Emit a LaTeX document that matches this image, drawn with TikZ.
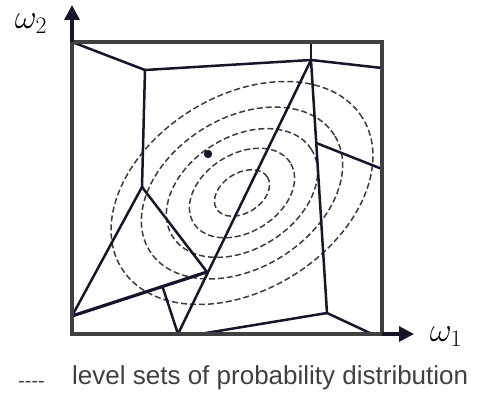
\RequirePackage{fix-cm}
\documentclass[tikz,border=0pt]{standalone}
\usepackage{fontspec}
\setmainfont{Liberation Sans}
\usetikzlibrary{arrows.meta,calc}
\definecolor{ink}{HTML}{16152A}
\definecolor{framegray}{HTML}{404040}
\definecolor{dashgray}{HTML}{3C3C3C}
\definecolor{textgray}{HTML}{404040}
\begin{document}
\begin{tikzpicture}[x=1pt,y=-1pt,
  edge/.style={draw=ink, line width=2.5pt, line join=round, line cap=round},
  thickedge/.style={edge, line width=3.2pt},
  frame/.style={draw=framegray, line width=3.6pt},
  levelset/.style={draw=dashgray, line width=1.5pt, dash pattern=on 6pt off 3pt},
  axis/.style={draw=ink, line width=3.2pt, -{Triangle[length=15pt,width=15pt]}},
  axlabel/.style={font=\fontsize{34}{38}\selectfont, inner sep=0pt},
  legend/.style={font=\fontsize{26}{30}\selectfont, text=textgray, inner sep=0pt}
]
\useasboundingbox (0,0) rectangle (477,403);
% frame corners
\coordinate (TL) at (72,42);
\coordinate (TR) at (382,42);
\coordinate (BR) at (382,334);
\coordinate (BL) at (72,334);
% level sets
\begin{scope}[shift={(242,193)}, rotate=32]
  \draw[levelset] (0,0) ellipse [x radius=142pt, y radius=97pt];
  \draw[levelset] (0,0) ellipse [x radius=109pt, y radius=75pt];
  \draw[levelset] (0,0) ellipse [x radius=82pt, y radius=56pt];
  \draw[levelset] (0,0) ellipse [x radius=57pt, y radius=39pt];
  \draw[levelset] (0,0) ellipse [x radius=30pt, y radius=20pt];
\end{scope}
% vertices
\coordinate (A) at (145,70);
\coordinate (B) at (311,60);
\coordinate (Btop) at (311,42);
\coordinate (Bright) at (382,68);
\coordinate (C) at (142,187);
\coordinate (D) at (327,313);
\coordinate (E) at ($(B)!0.328!(D)$);
\coordinate (Eright) at (382,169);
\coordinate (Dright) at (372,334);
\coordinate (Dleft) at (200,334);
\coordinate (F) at (178,334);
\coordinate (G) at (207,272);
\coordinate (H) at (72,316);
\coordinate (I) at ($(H)!0.67!(G)$);
% partition edges
\draw[edge] (TL) -- (A);
\draw[edge] (A) -- (B);
\draw[edge] (A) -- (C);
\draw[edge] (Btop) -- (B);
\draw[edge] (B) -- (Bright);
\draw[edge] (B) -- (D);
\draw[edge] (E) -- (Eright);
\draw[edge] (D) -- (Dright);
\draw[edge] (D) -- (Dleft);
\draw[edge] (B) -- (F);
\draw[edge] (C) -- (G);
\draw[edge] (C) -- (H);
\draw[thickedge] (H) -- (G);
\draw[edge] (I) -- (F);
% dot
\fill[ink] (208,154) circle [radius=4.2pt];
% frame
\draw[frame] (TL) rectangle (BR);
% axes
\coordinate (ytip) at (72,5);
\coordinate (xtip) at (414,334);
\draw[axis] (TL) -- (ytip);
\draw[axis] (BR) -- (xtip);
\node[axlabel] (w2) at (31,24) {$\omega_2$};
\node[axlabel] (w1) at (446,337) {$\omega_1$};
% legend
\node[legend, font=\fontsize{20}{24}\selectfont, anchor=base west] (dashes) at (18,388) {-\kern0pt-\kern0pt-\kern0pt-};
\node[legend, anchor=base west] (legtext) at (72,385) {level sets of probability distribution};
\end{tikzpicture}
\end{document}
